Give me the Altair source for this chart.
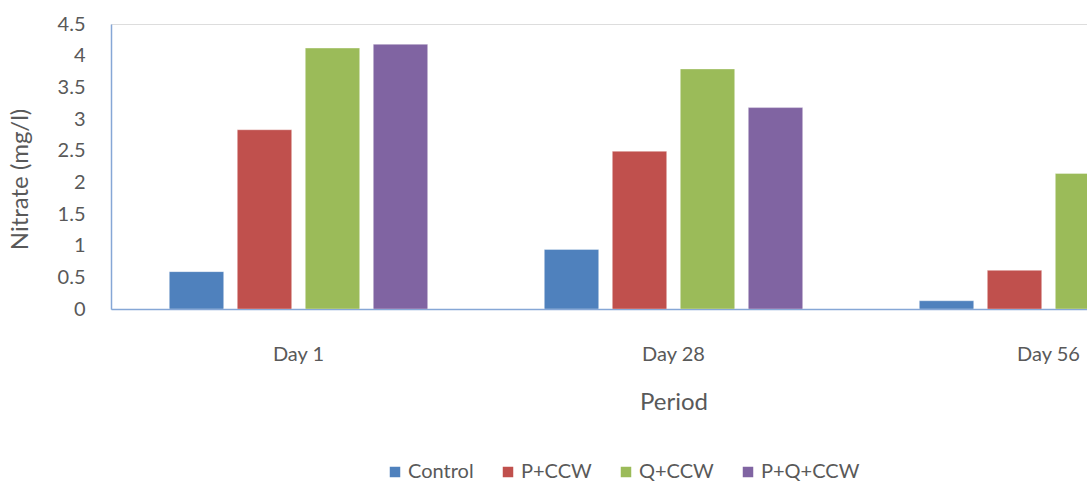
import altair as alt
import pandas as pd

# Nitrate concentration (mg/l) per sampling day and treatment
periods = ["Day 1", "Day 28", "Day 56"]
treatments = ["Control", "P+CCW", "Q+CCW", "P+Q+CCW"]
control = [0.59, 0.94, 0.13]
p_ccw = [2.83, 2.49, 0.61]
q_ccw = [4.12, 3.79, 2.14]
pq_ccw = [4.18, 3.18, 1.95]
colors = ["#4F81BD", "#C0504D", "#9BBB59", "#8064A2"]
y_ticks = [0, 0.5, 1, 1.5, 2, 2.5, 3, 3.5, 4, 4.5]

rows = []
for name, vals in zip(treatments, [control, p_ccw, q_ccw, pq_ccw]):
    for period, v in zip(periods, vals):
        rows.append({"Period": period, "Treatment": name, "Nitrate": v})
df = pd.DataFrame(rows)

FONT = "Lato"
TEXT = "#595959"
AXIS_LINE = "#86A7D6"

chart = (
    alt.Chart(df)
    .mark_bar(clip=True, stroke="white", strokeOpacity=0.35, strokeWidth=1)
    .encode(
        x=alt.X(
            "Period:N",
            sort=periods,
            scale=alt.Scale(range=[0, 1125], paddingInner=0.2747, paddingOuter=0.1373),
            axis=alt.Axis(
                title="Period",
                labelAngle=0,
                ticks=False,
                tickSize=0,
                domainColor=AXIS_LINE,
                domainWidth=1.5,
                labelPadding=35,
                labelFontSize=20,
                labelColor=TEXT,
                labelFont=FONT,
                titleFont=FONT,
                titleFontSize=24,
                titleFontWeight="normal",
                titleColor=TEXT,
                titlePadding=26,
            ),
        ),
        xOffset=alt.XOffset(
            "Treatment:N",
            sort=treatments,
            scale=alt.Scale(paddingInner=0.2, paddingOuter=0.1),
        ),
        y=alt.Y(
            "Nitrate:Q",
            scale=alt.Scale(domain=[0, 4.5], nice=False),
            axis=alt.Axis(
                title="Nitrate (mg/l)",
                values=y_ticks,
                labelExpr="toString(datum.value)",
                grid=False,
                ticks=False,
                tickSize=0,
                domainColor=AXIS_LINE,
                domainWidth=1.5,
                labelPadding=26,
                labelFontSize=20,
                labelColor=TEXT,
                labelFont=FONT,
                titleFont=FONT,
                titleFontSize=24,
                titleFontWeight="normal",
                titleColor=TEXT,
                titleX=-79,
                titleY=155,
            ),
        ),
        color=alt.Color(
            "Treatment:N",
            sort=treatments,
            scale=alt.Scale(domain=treatments, range=colors),
            legend=alt.Legend(
                title=None,
                orient="none",
                direction="horizontal",
                legendX=274,
                legendY=438,
                symbolType="square",
                symbolSize=110,
                symbolStrokeWidth=0,
                labelFont=FONT,
                labelFontSize=20,
                labelColor=TEXT,
                labelOffset=3,
                columnPadding=24,
            ),
        ),
    )
    .properties(
        width=976,
        height=285,
        autosize=alt.AutoSizeParams(type="none"),
        padding={"left": 111, "top": 24, "right": 0, "bottom": 174},
    )
    .configure_view(stroke=None)
    .configure(background="white")
)

chart.save("out.html", embed_options={"renderer": "svg", "actions": False})
